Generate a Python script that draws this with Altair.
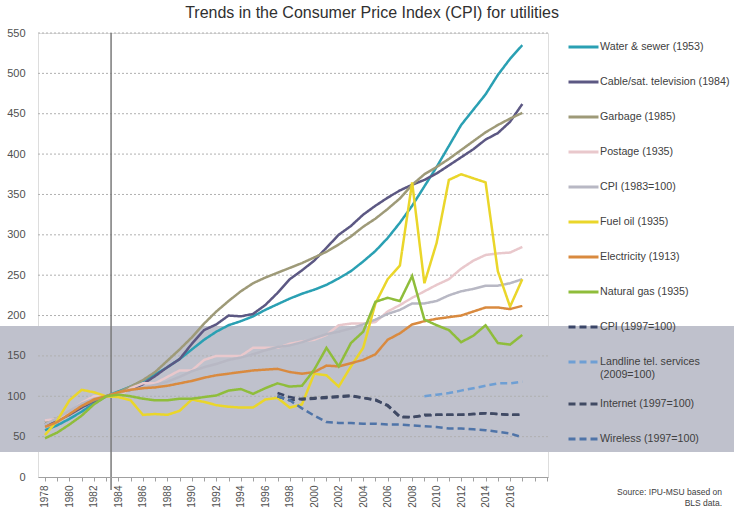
import altair as alt
import pandas as pd

years = list(range(1978, 2018))
water = [58, 64, 72, 81, 91, 100, 106, 112, 119, 127, 136, 146, 158, 170, 180, 188, 193, 199, 207, 214,
         221, 227, 232, 238, 246, 255, 267, 280, 296, 315, 336, 360, 384, 410, 436, 455, 474, 498, 518, 535]
cable = [65, 70, 77, 86, 94, 100, 104, 108, 115, 125, 136, 146, 165, 182, 189, 200, 199, 202, 213, 228,
         245, 256, 268, 284, 300, 311, 325, 336, 346, 355, 362, 368, 376, 386, 396, 406, 418, 426, 440, 462]
garbage = [68, 73, 80, 88, 95, 100, 105, 112, 120, 130, 144, 158, 173, 190, 205, 218, 230, 240, 247, 253,
           259, 265, 272, 279, 288, 298, 310, 320, 332, 345, 362, 375, 384, 394, 405, 416, 427, 436, 444, 451]
postage = [70, 72, 80, 92, 100, 100, 100, 110, 116, 116, 124, 132, 132, 145, 150, 150, 150, 160, 160, 160,
           165, 168, 170, 176, 188, 190, 190, 192, 205, 213, 222, 230, 238, 245, 258, 268, 275, 277, 278, 285]
cpi83 = [65, 73, 82, 91, 97, 100, 104, 108, 110, 114, 118, 124, 131, 136, 140, 145, 148, 152, 157, 161,
         163, 167, 172, 177, 180, 184, 189, 195, 202, 207, 215, 215, 218, 225, 230, 233, 237, 237, 240, 245]
fuel = [52, 70, 95, 108, 105, 100, 99, 95, 77, 78, 77, 82, 96, 93, 89, 87, 86, 86, 96, 98,
        86, 90, 128, 126, 112, 137, 160, 215, 245, 262, 365, 240, 290, 368, 375, 370, 365, 255, 211, 245]
elec = [62, 68, 78, 88, 96, 100, 105, 108, 110, 111, 113, 116, 119, 123, 126, 128, 130, 132, 133, 134,
        130, 128, 130, 138, 137, 141, 145, 152, 170, 178, 189, 193, 196, 198, 200, 205, 210, 210, 208, 212]
gas = [48, 55, 65, 76, 90, 100, 102, 100, 97, 95, 95, 97, 97, 99, 101, 107, 109, 103, 110, 116,
       112, 113, 133, 160, 137, 166, 180, 217, 222, 218, 249, 195, 188, 182, 167, 175, 188, 166, 164, 176]

years97 = list(range(1997, 2018))
cpi97 = [104, 99, 96, 97, 98, 99, 100, 98, 95, 89, 75, 74, 76, 77, 77, 77, 78, 79, 78, 77, 77]
internet = [100, 95, 97, 98, 99, 100, 101, 98, 96, 88, 74, 74, 77, 77, 77, 77, 78, 79, 78, 77, 77]
wireless = [100, 95, 85, 76, 68, 67, 67, 66, 66, 65, 65, 64, 63, 62, 60, 60, 59, 58, 56, 54, 49]
years09 = list(range(2009, 2018))
landline = [100, 102, 104, 107, 110, 113, 116, 116, 118]

names = ["Water & sewer (1953)", "Cable/sat. television (1984)", "Garbage (1985)", "Postage (1935)",
         "CPI (1983=100)", "Fuel oil (1935)", "Electricity (1913)", "Natural gas (1935)",
         "CPI (1997=100)", "Landline tel. services|(2009=100)", "Internet (1997=100)", "Wireless (1997=100)"]
colors = ["#2aa0b3", "#5c5883", "#9e9a78", "#e9c8cc", "#b8b8c4", "#ead62a", "#d98a3f", "#8fbd3b",
          "#3b4668", "#6e9fd4", "#404a63", "#4f74a8"]
dashes = [[1, 0]] * 8 + [[7, 4]] * 4

series = [(years, water), (years, cable), (years, garbage), (years, postage), (years, cpi83),
          (years, fuel), (years, elec), (years, gas), (years97, cpi97), (years09, landline),
          (years97, internet), (years97, wireless)]

rows = []
for name, (ys, vals) in zip(names, series):
    for y, v in zip(ys, vals):
        rows.append({"year": y, "value": v, "series": name})
df = pd.DataFrame(rows)

y_grid = list(range(50, 551, 50))
y_ticks = list(range(0, 551, 50))
band = [187, 31]
base_year = [1983.4]
x_ticks = list(range(1978, 2020))

FONT = "Liberation Sans, Arial, sans-serif"

xscale = alt.Scale(domain=[1977.43, 2019.1], nice=False, zero=False)
yscale = alt.Scale(domain=[0, 550], nice=False)

x_axis = alt.Axis(values=x_ticks,
                  labelExpr="datum.value % 2 == 0 && datum.value <= 2016 ? datum.label : ''",
                  format="d", labelAngle=-90, labelOverlap=False, grid=False, title=None,
                  domainColor="#a0a0a0", tickColor="#a0a0a0", tickSize=4, labelPadding=4,
                  labelFont=FONT, labelFontSize=10, labelColor="#505050", zindex=1)
y_axis = alt.Axis(values=y_ticks, grid=False, domain=False, ticks=False,
                  labelPadding=13, labelFont=FONT, labelFontSize=11, labelColor="#505050",
                  title=None, zindex=1)

legend = alt.Legend(orient="none", legendX=529, legendY=3, title=None, symbolType="stroke",
                    symbolSize=900, symbolStrokeWidth=3, labelFont=FONT, labelFontSize=10.7,
                    labelColor="#404040", labelOffset=0, rowPadding=13, clipHeight=22,
                    labelLimit=200, padding=0, labelExpr="split(datum.label, '|')")

bandc = alt.Chart(pd.DataFrame({"a": [0]})).mark_rect(color="#bfc1cc").encode(
    x=alt.value(-38), x2=alt.value(696),
    y=alt.datum(band[0], scale=yscale, axis=y_axis), y2=alt.datum(band[1]))

grid = alt.Chart(pd.DataFrame({"v": y_grid})).mark_rule(color="#b0b0b0", strokeDash=[2, 2], strokeWidth=1).encode(
    y=alt.Y("v:Q", scale=yscale, axis=y_axis))

vline = alt.Chart(pd.DataFrame({"yr": base_year})).mark_rule(color="#7a7a7a", strokeWidth=1.5).encode(
    x=alt.X("yr:Q", scale=xscale, axis=x_axis), y=alt.value(0), y2=alt.value(457))

lines = alt.Chart(df).mark_line(strokeWidth=2.5).encode(
    x=alt.X("year:Q", scale=xscale, axis=x_axis),
    y=alt.Y("value:Q", scale=yscale, axis=y_axis),
    color=alt.Color("series:N", scale=alt.Scale(domain=names, range=colors), legend=legend),
    strokeDash=alt.StrokeDash("series:N", scale=alt.Scale(domain=names, range=dashes), legend=legend),
)

source = alt.Chart(pd.DataFrame({"a": [0]})).mark_text(
    text=["Source: IPU-MSU based on", "BLS data."], align="right", baseline="top",
    font=FONT, fontSize=8.5, lineHeight=11, color="#404040").encode(
    x=alt.value(684), y=alt.value(455))

chart = alt.layer(bandc, grid, vline, lines, source).properties(
    width=510, height=444,
    padding={"left": 38, "top": 33, "right": 186, "bottom": 35},
    autosize=alt.AutoSizeParams(type="none"),
    title=alt.TitleParams("Trends in the Consumer Price Index (CPI) for utilities", font=FONT,
                          fontSize=16, fontWeight="normal", color="#303030", anchor="middle",
                          dx=79, offset=6),
).configure_view(stroke=None).configure(background="white")

chart.save("out.html", embed_options={"renderer": "svg", "actions": False})
